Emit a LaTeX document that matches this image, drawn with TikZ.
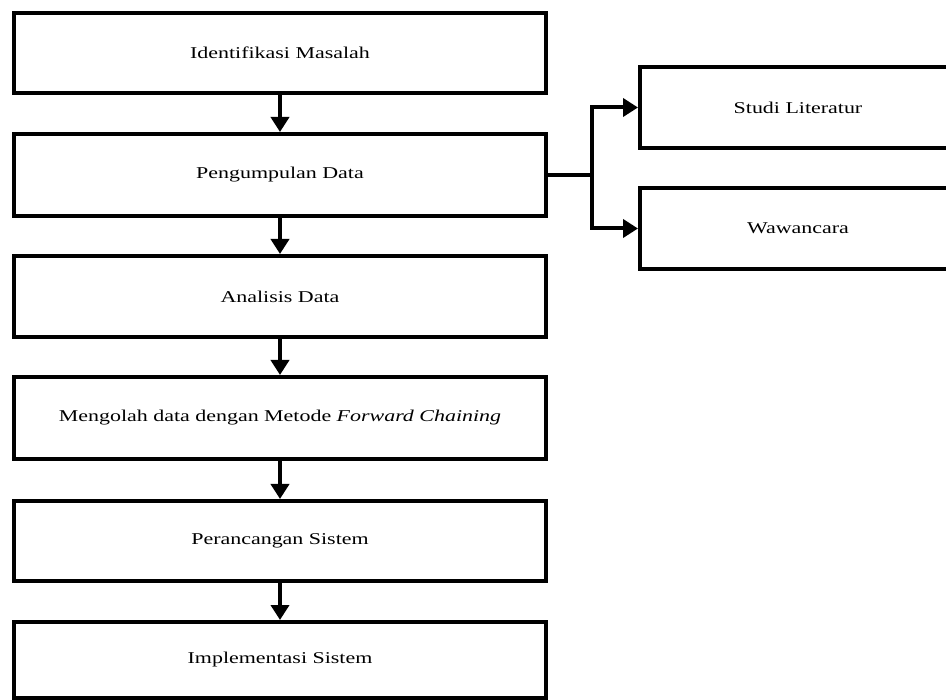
\documentclass[tikz,border=0pt]{standalone}
\usepackage{fontspec}
\setmainfont{Liberation Serif}[FakeStretch=1.33]
\usetikzlibrary{arrows.meta}
\begin{document}
\begin{tikzpicture}[x=1pt,y=-1pt,
  box/.style={draw=black,line width=4pt,rectangle,inner sep=0pt,
    font=\fontsize{16.5}{18}\selectfont},
  flow/.style={line width=4pt,-{Triangle[length=15pt,width=18pt]}}]
\useasboundingbox (0,0) rectangle (946,700);
\clip (0,0) rectangle (946,700);
\fill[white] (0,0) rectangle (946,700);
% left column boxes
\node[box,minimum width=532pt,minimum height=80pt] (b1) at (280,53) {Identifikasi Masalah};
\node[box,minimum width=532pt,minimum height=82pt] (b2) at (280,175) {Pengumpulan Data};
\node[box,minimum width=532pt,minimum height=81pt] (b3) at (280,296.5) {Analisis Data};
\node[box,minimum width=532pt,minimum height=82pt] (b4) at (280,418) {Mengolah data dengan Metode \textit{Forward Chaining}};
\node[box,minimum width=532pt,minimum height=80pt] (b5) at (280,541) {Perancangan Sistem};
\node[box,minimum width=532pt,minimum height=76pt] (b6) at (280,660) {Implementasi Sistem};
% right boxes
\node[box,minimum width=316pt,minimum height=81pt] (r1) at (798,107.5) {Studi Literatur};
\node[box,minimum width=316pt,minimum height=81pt] (r2) at (798,228.5) {Wawancara};
% vertical flow
\draw[flow] (b1.south) -- (b2.north);
\draw[flow] (b2.south) -- (b3.north);
\draw[flow] (b3.south) -- (b4.north);
\draw[flow] (b4.south) -- (b5.north);
\draw[flow] (b5.south) -- (b6.north);
% branch
\coordinate (j) at (592,175);
\draw[line width=4pt] (b2.east) -- (j);
\draw[flow] (j) |- (r1.west);
\draw[flow] (j) |- (r2.west);
\end{tikzpicture}
\end{document}
